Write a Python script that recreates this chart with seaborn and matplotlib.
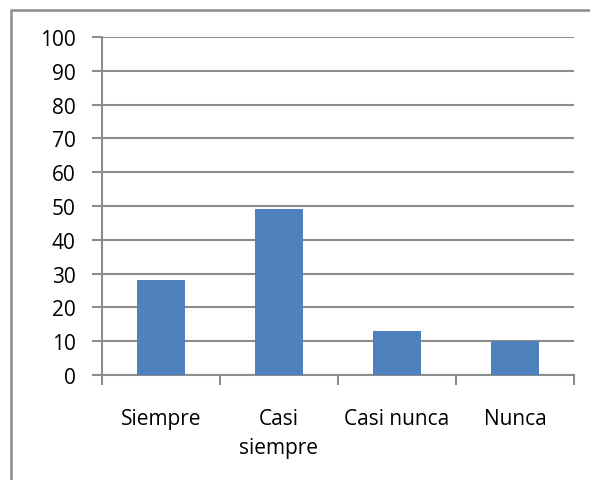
import matplotlib
matplotlib.use("Agg")
import matplotlib.pyplot as plt
import seaborn as sns
import pandas as pd
from matplotlib.patches import Rectangle

# data
categories = ["Siempre", "Casi\nsiempre", "Casi nunca", "Nunca"]
values = [28, 49, 13, 10]
y_ticks = list(range(0, 101, 10))

df = pd.DataFrame({"categoria": categories, "valor": values})

sns.set_style("white")
plt.rcParams['font.family'] = ['Open Sans', 'DejaVu Sans']
plt.rcParams['text.color'] = 'black'
plt.rcParams['xtick.color'] = 'black'
plt.rcParams['ytick.color'] = 'black'

fig = plt.figure(figsize=(5.9, 4.81), dpi=100)
ax = fig.add_axes([102 / 590, 1 - 376 / 481, 472 / 590, 338 / 481])

grid_col = "#8c8c8c"
sns.barplot(data=df, x="categoria", y="valor", color="#4F81BD", width=0.4,
            saturation=1, linewidth=0, ax=ax, zorder=3)

ax.set_ylim(0, 100)
ax.set_xlim(-0.5, len(categories) - 0.5)
ax.set_yticks(y_ticks)
ax.yaxis.grid(True, color=grid_col, lw=1.5, zorder=0)
ax.set_axisbelow(True)
ax.set_xlabel("")
ax.set_ylabel("")

# ticks at category boundaries on x
ax.set_xticks([i + 0.5 for i in range(-1, len(categories))], minor=False)
ax.set_xticklabels([])
ax.set_xticks(range(len(categories)), minor=True)
ax.set_xticklabels(categories, minor=True, fontsize=15, linespacing=1.45)
ax.tick_params(axis="x", which="major", bottom=True, direction="out", length=7, width=1.5,
               color=grid_col)
ax.tick_params(axis="x", which="minor", bottom=True, length=0, pad=24, labelcolor="black")
ax.tick_params(axis="y", left=True, direction="out", length=7, width=1.5, color=grid_col,
               labelsize=15, labelcolor="black", pad=12)
for lbl in ax.get_xticklabels(minor=True):
    lbl.set_verticalalignment("top")

for side in ["top", "right"]:
    ax.spines[side].set_visible(False)
for side in ["left", "bottom"]:
    ax.spines[side].set_color(grid_col)
    ax.spines[side].set_linewidth(1.5)

# outer chart frame (partly cropped in the reference)
frame = Rectangle((11 / 590, -0.1), 1.2, 1.1 - 11 / 481, transform=fig.transFigure,
                  fill=False, edgecolor="#8c8c8c", lw=1.8)
fig.patches.append(frame)

fig.savefig("out.png", dpi=100)
